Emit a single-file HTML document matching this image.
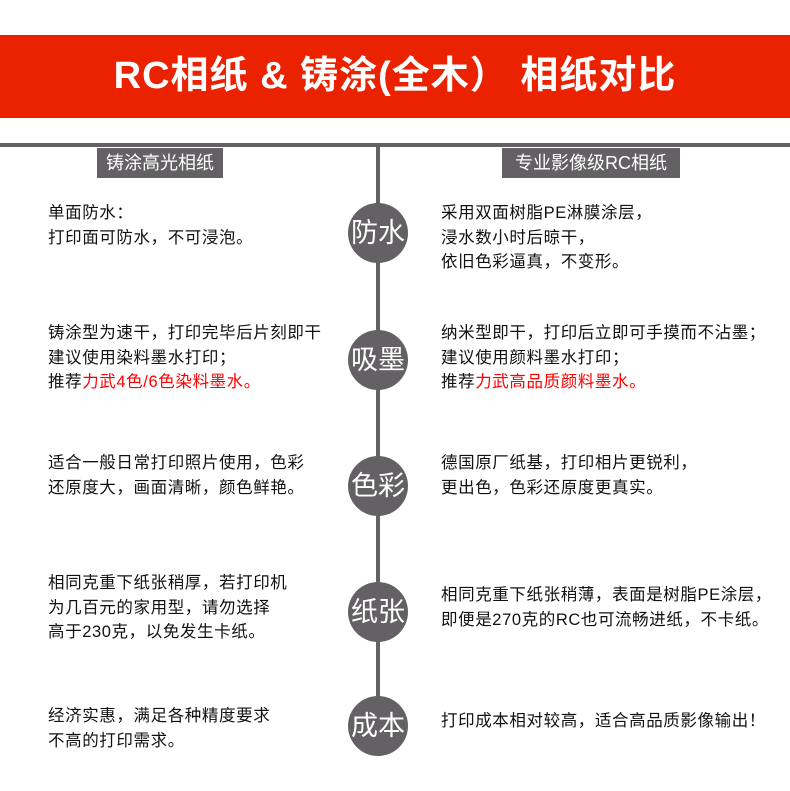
<!DOCTYPE html>
<html><head><meta charset="utf-8"><style>
body{margin:0;width:790px;height:791px;background:#fff;position:relative;overflow:hidden;font-family:"Liberation Sans","Noto Sans CJK SC",sans-serif;}
.a{position:absolute;}
.band{left:0;top:35px;width:790px;height:83px;background:#ea2200;color:#fff;font-weight:bold;font-size:38px;line-height:83px;text-align:center;letter-spacing:1px;}
.hl{left:0;top:143px;width:790px;height:4px;background:#636163;}
.vl{left:376px;top:147px;width:4px;height:580px;background:#636163;}
.lab{top:148px;height:30px;background:#636163;color:#fff;font-size:18px;line-height:30px;text-align:center;}
.c{left:348px;width:60px;height:60px;border-radius:50%;background:#636163;color:#fff;font-size:27px;line-height:60px;text-align:center;}
.t{font-size:16.5px;line-height:24.5px;color:#111;white-space:nowrap;letter-spacing:0.6px;}
.r{color:#f00;}
</style></head><body>
<div class="a band">RC相纸 &amp; 铸涂(全木） 相纸对比</div>
<div class="a hl"></div>
<div class="a vl"></div>
<div class="a lab" style="left:97px;width:126px">铸涂高光相纸</div>
<div class="a lab" style="left:502px;width:178px">专业影像级RC相纸</div>

<div class="a c" style="top:203px">防水</div>
<div class="a c" style="top:330px">吸墨</div>
<div class="a c" style="top:456px">色彩</div>
<div class="a c" style="top:582px">纸张</div>
<div class="a c" style="top:696px">成本</div>

<div class="a t" style="left:48px;top:201px">单面防水：<br>打印面可防水，不可浸泡。</div>
<div class="a t" style="left:441px;top:201px">采用双面树脂PE淋膜涂层，<br>浸水数小时后晾干，<br>依旧色彩逼真，不变形。</div>

<div class="a t" style="left:48px;top:321px">铸涂型为速干，打印完毕后片刻即干<br>建议使用染料墨水打印；<br>推荐<span class="r">力武4色/6色染料墨水。</span></div>
<div class="a t" style="left:441px;top:321px">纳米型即干，打印后立即可手摸而不沾墨；<br>建议使用颜料墨水打印；<br>推荐<span class="r">力武高品质颜料墨水。</span></div>

<div class="a t" style="left:48px;top:451px">适合一般日常打印照片使用，色彩<br>还原度大，画面清晰，颜色鲜艳。</div>
<div class="a t" style="left:441px;top:451px">德国原厂纸基，打印相片更锐利，<br>更出色，色彩还原度更真实。</div>

<div class="a t" style="left:48px;top:571px">相同克重下纸张稍厚，若打印机<br>为几百元的家用型，请勿选择<br>高于230克，以免发生卡纸。</div>
<div class="a t" style="left:441px;top:583px">相同克重下纸张稍薄，表面是树脂PE涂层，<br>即便是270克的RC也可流畅进纸，不卡纸。</div>

<div class="a t" style="left:48px;top:704px">经济实惠，满足各种精度要求<br>不高的打印需求。</div>
<div class="a t" style="left:441px;top:709px">打印成本相对较高，适合高品质影像输出！</div>
</body></html>
